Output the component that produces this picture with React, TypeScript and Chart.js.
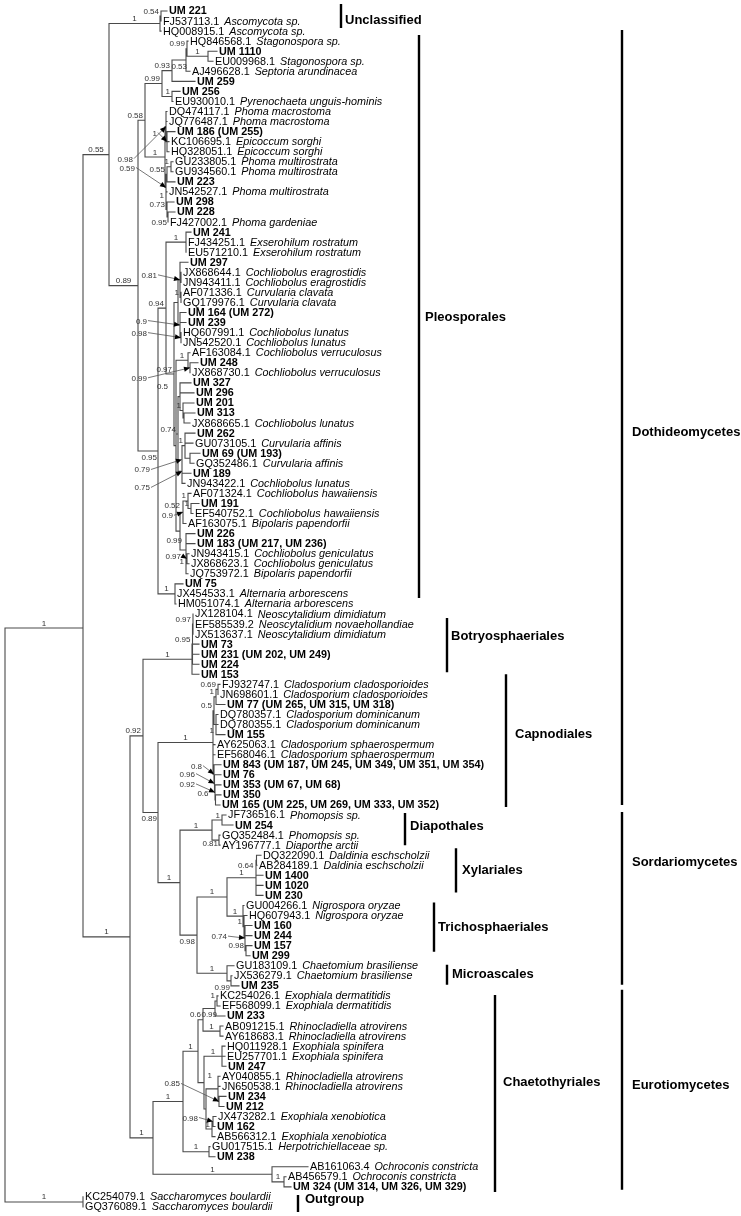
import React, { useEffect, useRef } from "react";
import { Chart, registerables } from "chart.js";

Chart.register(...registerables);

// ---------------- leaves, top to bottom ----------------
const leafIds: string[] = [
  "UM 221", "FJ537113.1", "HQ008915.1", "HQ846568.1", "UM 1110", "EU009968.1", "AJ496628.1", "UM 259", "UM 256", "EU930010.1",
  "DQ474117.1", "JQ776487.1", "UM 186 (UM 255)", "KC106695.1", "HQ328051.1", "GU233805.1", "GU934560.1", "UM 223", "JN542527.1", "UM 298",
  "UM 228", "FJ427002.1", "UM 241", "FJ434251.1", "EU571210.1", "UM 297", "JX868644.1", "JN943411.1", "AF071336.1", "GQ179976.1",
  "UM 164 (UM 272)", "UM 239", "HQ607991.1", "JN542520.1", "AF163084.1", "UM 248", "JX868730.1", "UM 327", "UM 296", "UM 201",
  "UM 313", "JX868665.1", "UM 262", "GU073105.1", "UM 69 (UM 193)", "GQ352486.1", "UM 189", "JN943422.1", "AF071324.1", "UM 191",
  "EF540752.1", "AF163075.1", "UM 226", "UM 183 (UM 217, UM 236)", "JN943415.1", "JX868623.1", "JQ753972.1", "UM 75", "JX454533.1", "HM051074.1",
  "JX128104.1", "EF585539.2", "JX513637.1", "UM 73", "UM 231 (UM 202, UM 249)", "UM 224", "UM 153", "FJ932747.1", "JN698601.1", "UM 77 (UM 265, UM 315, UM 318)",
  "DQ780357.1", "DQ780355.1", "UM 155", "AY625063.1", "EF568046.1", "UM 843 (UM 187, UM 245, UM 349, UM 351, UM 354)", "UM 76", "UM 353 (UM 67, UM 68)", "UM 350", "UM 165 (UM 225, UM 269, UM 333, UM 352)",
  "JF736516.1", "UM 254", "GQ352484.1", "AY196777.1", "DQ322090.1", "AB284189.1", "UM 1400", "UM 1020", "UM 230", "GU004266.1",
  "HQ607943.1", "UM 160", "UM 244", "UM 157", "UM 299", "GU183109.1", "JX536279.1", "UM 235", "KC254026.1", "EF568099.1",
  "UM 233", "AB091215.1", "AY618683.1", "HQ011928.1", "EU257701.1", "UM 247", "AY040855.1", "JN650538.1", "UM 234", "UM 212",
  "JX473282.1", "UM 162", "AB566312.1", "GU017515.1", "UM 238", "AB161063.4", "AB456579.1", "UM 324 (UM 314, UM 326, UM 329)", "KC254079.1", "GQ376089.1",
];

const leafSpecies: string[] = [
  "", "Ascomycota sp.", "Ascomycota sp.", "Stagonospora sp.", "", "Stagonospora sp.", "Septoria arundinacea", "", "", "Pyrenochaeta unguis-hominis",
  "Phoma macrostoma", "Phoma macrostoma", "", "Epicoccum sorghi", "Epicoccum sorghi", "Phoma multirostrata", "Phoma multirostrata", "", "Phoma multirostrata", "",
  "", "Phoma gardeniae", "", "Exserohilum rostratum", "Exserohilum rostratum", "", "Cochliobolus eragrostidis", "Cochliobolus eragrostidis", "Curvularia clavata", "Curvularia clavata",
  "", "", "Cochliobolus lunatus", "Cochliobolus lunatus", "Cochliobolus verruculosus", "", "Cochliobolus verruculosus", "", "", "",
  "", "Cochliobolus lunatus", "", "Curvularia affinis", "", "Curvularia affinis", "", "Cochliobolus lunatus", "Cochliobolus hawaiiensis", "",
  "Cochliobolus hawaiiensis", "Bipolaris papendorfii", "", "", "Cochliobolus geniculatus", "Cochliobolus geniculatus", "Bipolaris papendorfii", "", "Alternaria arborescens", "Alternaria arborescens",
  "Neoscytalidium dimidiatum", "Neoscytalidium novaehollandiae", "Neoscytalidium dimidiatum", "", "", "", "", "Cladosporium cladosporioides", "Cladosporium cladosporioides", "",
  "Cladosporium dominicanum", "Cladosporium dominicanum", "", "Cladosporium sphaerospermum", "Cladosporium sphaerospermum", "", "", "", "", "",
  "Phomopsis sp.", "", "Phomopsis sp.", "Diaporthe arctii", "Daldinia eschscholzii", "Daldinia eschscholzii", "", "", "", "Nigrospora oryzae",
  "Nigrospora oryzae", "", "", "", "", "Chaetomium brasiliense", "Chaetomium brasiliense", "", "Exophiala dermatitidis", "Exophiala dermatitidis",
  "", "Rhinocladiella atrovirens", "Rhinocladiella atrovirens", "Exophiala spinifera", "Exophiala spinifera", "", "Rhinocladiella atrovirens", "Rhinocladiella atrovirens", "", "",
  "Exophiala xenobiotica", "", "Exophiala xenobiotica", "Herpotrichiellaceae sp.", "", "Ochroconis constricta", "Ochroconis constricta", "", "Saccharomyces boulardii", "Saccharomyces boulardii",
];

// tip position of every leaf along the branch-length axis
const leafDepth: number[] = [
  167, 161, 161, 188, 217, 213, 190, 195, 180, 173,
  167, 167, 175, 169, 169, 173, 173, 175, 167, 174,
  175, 168, 191, 186, 186, 188, 181, 181, 181, 181,
  186, 186, 181, 181, 190, 198, 190, 191, 194, 194,
  195, 190, 195, 193, 200, 194, 191, 185, 191, 199,
  193, 186, 195, 195, 189, 189, 188, 183, 175, 176,
  193, 193, 193, 199, 199, 199, 199, 220, 218, 225,
  218, 218, 225, 215, 215, 221, 221, 221, 221, 220,
  226, 233, 220, 220, 261, 257, 263, 263, 263, 244,
  247, 252, 252, 252, 250, 234, 232, 239, 218, 220,
  225, 223, 223, 225, 225, 226, 220, 220, 226, 224,
  216, 215, 215, 210, 215, 308, 286, 291, 83, 83,
];

// ---------------- tree: [node depth, support, ...children] ----------------
type Tree = number | any[];

const unclassifiedClade: Tree = [160, "1", [161, "0.54", 0, 1], 2];

const phomaClade: Tree = [145, "0.58",
  [162, "0.99",
    [172, "0.93", [186, "0.53", [187, "0.99", 3, [208, "1", 4, 5]], 6], 7],
    [172, "1", 8, 9]],
  [165, "1",
    [166, "0.98", 10, 11, [167, "1", 12, 13, 14]],
    [166, "0.59", [167, "0.55", [171, "1", 15, 16], 17],
      [166, "1", 18, [167, "0.73", 19, [168, "0.95", 20, 21]]]]]];

const cochliobolusClade: Tree = [174, "0.97",
  [178, "", [180, "0.81", 25, [181, "", 26, 27], [181, "1", 28, 29]],
    [180, "0.9", 30, 31, [181, "0.98", 32, 33]]],
  [176, "",
    [188, "1", 34, [190, "0.99", 35, 36]],
    [178, "0.74", [180, "0.5", 37, 38, [183, "1", 39, [184, "", 40, 41]]],
      [182, "0.75", [182, "0.79", [185, "1", 42, 43, [190, "", 44, 45]], 46], 47]],
    [180, "0.52", [183, "0.9", [188, "1", 48, [191, "1", 49, 50]], 51],
      [186, "0.99", 52, 53, [186, "1", [187, "0.97", 54, 55], 56]]]]];

const pleosporalesClade: Tree = [158, "0.95",
  [166, "0.94", [186, "1", 22, 23, 24], cochliobolusClade],
  [175, "1", 57, 58, 59]];

const botryosphaerialesClade: Tree = [192, "1",
  [192.5, "0.95", [193, "0.97", 60, 61, 62], 63, 64, 65], 66];

const capnodialesClade: Tree = [213, "1",
  [214, "0.5", [216, "1", [218, "0.69", 67, 68], 69], [216, "1", 70, 71, 72]],
  73, 74,
  [214, "0.8", 75, [214.5, "0.96", 76, [215, "0.92", 77, [215.5, "0.6", 78, 79]]]]];

const sordariomycetesClade: Tree = [180, "1",
  [212, "1", [222, "1", 80, 81], [219, "0.81", 82, 83]],
  [197, "0.98",
    [227, "1",
      [256, "1", [256.5, "0.64", 84, 85], 86, 87, 88],
      [243, "1", 89, [244, "1", 90, [245, "0.74", 91, 92, [246, "0.98", 93, 94]]]]],
    [227, "1", 95, [231, "0.99", 96, 97]]]];

const eurotiomycetesClade: Tree = [153, "1",
  [183, "1",
    [198, "1",
      [203, "0.6", [215, "0.99", [217, "1", 98, 99], 100], [220, "1", 101, 102]],
      [204, "", [222, "1", 103, 104, 105],
        [206, "", [218, "1", 106, 107, [219, "0.85", 108, 109]],
          [212, "1", [213, "0.98", 110, 111], 112]]]],
    [209, "1", 113, 114]],
  [272, "1", 115, [284, "1", 116, 117]]];

const tree: Tree = [5, "",
  [83, "1",
    [109, "0.55", unclassifiedClade, [138, "0.89", phomaClade, pleosporalesClade]],
    [130, "1",
      [143, "0.92", botryosphaerialesClade, [158, "0.89", capnodialesClade, sordariomycetesClade]],
      eurotiomycetesClade]],
  [83, "1", 118, 119]];

// ---------------- clades (bars on the right) ----------------
const cladeNames: string[] = ["Unclassified", "Pleosporales", "Botryosphaeriales", "Capnodiales", "Diapothales", "Xylariales", "Trichosphaeriales", "Microascales", "Chaetothyriales", "Outgroup", "Dothideomycetes", "Sordariomycetes", "Eurotiomycetes"];
const cladeBarTop: number[] = [-0.7, 2.4, 60.4, 66.0, 79.8, 83.3, 88.7, 94.9, 97.9, 117.8, 1.9, 79.7, 97.4];
const cladeBarBottom: number[] = [1.7, 58.4, 65.8, 79.2, 83.0, 87.7, 93.6, 96.9, 117.5, 119.5, 79.0, 96.9, 117.3];
const cladeLabelRow: number[] = [0.9, 30.5, 62.2, 72, 81.1, 85.5, 91.2, 95.9, 106.6, 118.3, 41.9, 84.7, 106.9];

// ---------------- layout (pixels) ----------------
const CLADE_BAR_X = [341, 419, 447, 506, 405, 456, 434, 447, 495, 298, 622, 622, 622];
const CLADE_TEXT_GAP = [4, 6, 4, 9, 5, 6, 4, 5, 8, 7, 10, 10, 10];
// node drawn off its children's midpoint (key "firstLeaf-lastLeaf" -> row)
const NODE_ROW_OVERRIDE: Record<string, number> = { "0-117": 61.4 };
// support labels placed beside their node: key "firstLeaf-lastLeaf" -> [dx, dy, arrow]
const SUPPORT_OFFSETS: Record<string, [number, number, number]> = {
  "12-14": [-10, -6, 1], "10-14": [-33, 35, 1], "15-21": [-31, -17, 1], "20-21": [-1, 8, 0],
  "3-6": [1, 9, 0], "25-29": [-23, -2, 1], "30-33": [-33, -1.5, 1], "32-33": [-34, -2, 1],
  "35-36": [-43, 13, 1], "37-41": [-12, -8, 0], "42-46": [-32, 13, 1], "42-47": [-32, 19, 1],
  "48-56": [0, -23, 0], "48-51": [-10, 6, 1], "52-56": [-4, -7, 0], "54-55": [-6, 0, 1],
  "22-59": [-1, 9, 0], "70-72": [-2, 8, 0], "75-79": [-12, -5.5, 1], "76-79": [-19.5, -7, 1],
  "77-79": [-20, -5.5, 1], "78-79": [-7, -4, 0], "67-97": [-1, 8, 0], "82-83": [-1, 6, 0],
  "84-85": [-3, 8, 0], "91-94": [-18, 1, 1], "84-97": [-2, 9, 0], "96-97": [-1, 9, 0],
  "98-100": [2, 8.5, 0], "106-109": [-6, -11, 0], "108-109": [-39, -15, 1], "110-111": [-15, -1, 1],
};

const ROW_TOP = 11;
const ROW_STEP = 10.05;
const W = 741;
const H = 1216;
const FONT = '"Liberation Sans", Arial, sans-serif';

interface Placed { x: number; y: number; first: number; last: number; support: string; parentX: number; }

export default function App() {
  const ref = useRef<HTMLCanvasElement>(null);

  useEffect(() => {
    const canvas = ref.current;
    if (!canvas) return;

    const placed: Placed[] = [];
    const branchPts: { x: number; y: number | null }[] = [];
    const seg = (x1: number, y1: number, x2: number, y2: number) => {
      branchPts.push({ x: x1, y: y1 }, { x: x2, y: y2 }, { x: x2, y: null });
    };
    const walk = (t: Tree, parentX: number): { x: number; y: number; first: number; last: number } => {
      if (typeof t === "number") return { x: leafDepth[t], y: t, first: t, last: t };
      const d = t[0] as number;
      const s = t[1] as string;
      const kids = t.slice(2) as Tree[];
      const res = kids.map((k) => walk(k, d));
      const y0 = res[0].y;
      const y1 = res[res.length - 1].y;
      seg(d, y0, d, y1);
      res.forEach((r) => { if (r.x > d) seg(d, r.y, r.x, r.y); });
      const first = res[0].first;
      const last = res[res.length - 1].last;
      const ov = NODE_ROW_OVERRIDE[`${first}-${last}`];
      const node = { x: d, y: ov !== undefined ? ov : (y0 + y1) / 2, first, last };
      placed.push({ ...node, support: s, parentX });
      return node;
    };
    walk(tree, 5);

    const barPts: { x: number; y: number | null }[] = [];
    cladeNames.forEach((_, i) => {
      barPts.push({ x: CLADE_BAR_X[i], y: cladeBarTop[i] }, { x: CLADE_BAR_X[i], y: cladeBarBottom[i] }, { x: CLADE_BAR_X[i], y: null });
    });

    const textPlugin = {
      id: "treeText",
      afterDatasetsDraw(chart: any) {
        const ctx: CanvasRenderingContext2D = chart.ctx;
        const xs = chart.scales.x;
        const ys = chart.scales.y;
        ctx.save();
        // leaf labels
        ctx.textAlign = "left";
        ctx.textBaseline = "middle";
        ctx.fillStyle = "#000";
        leafIds.forEach((id, i) => {
          const x = xs.getPixelForValue(leafDepth[i]) + 2;
          const y = ys.getPixelForValue(i) + 0.5;
          if (!leafSpecies[i]) {
            ctx.font = `bold 10.8px ${FONT}`;
            ctx.fillText(id, x, y);
          } else {
            ctx.font = `10.8px ${FONT}`;
            ctx.fillText(id, x, y);
            const w = ctx.measureText(id + " ").width;
            ctx.font = `italic 10.8px ${FONT}`;
            ctx.fillText(leafSpecies[i], x + w + 2, y);
          }
        });
        // support values
        ctx.font = `8px ${FONT}`;
        ctx.textBaseline = "alphabetic";
        placed.forEach((n) => {
          if (!n.support) return;
          const px = xs.getPixelForValue(n.x);
          const ppx = xs.getPixelForValue(n.parentX);
          const py = ys.getPixelForValue(n.y);
          const w = ctx.measureText(n.support).width;
          const off = SUPPORT_OFFSETS[`${n.first}-${n.last}`];
          ctx.fillStyle = "#333";
          if (off) {
            const tx = px + off[0];
            const ty = py + off[1];
            ctx.textAlign = "right";
            ctx.fillText(n.support, tx, ty);
            if (off[2]) {
              const sx = tx + 1;
              const sy = ty - 3;
              const ang = Math.atan2(py - sy, px - sx);
              ctx.strokeStyle = "#555";
              ctx.lineWidth = 0.8;
              ctx.beginPath();
              ctx.moveTo(sx, sy);
              ctx.lineTo(px - 4 * Math.cos(ang), py - 4 * Math.sin(ang));
              ctx.stroke();
              ctx.fillStyle = "#000";
              ctx.beginPath();
              ctx.moveTo(px, py);
              ctx.lineTo(px - 6 * Math.cos(ang) + 2.6 * Math.sin(ang), py - 6 * Math.sin(ang) - 2.6 * Math.cos(ang));
              ctx.lineTo(px - 6 * Math.cos(ang) - 2.6 * Math.sin(ang), py - 6 * Math.sin(ang) + 2.6 * Math.cos(ang));
              ctx.closePath();
              ctx.fill();
            }
          } else if (px - ppx >= w + 6) {
            ctx.textAlign = "center";
            ctx.fillText(n.support, (px + ppx) / 2, py - 2.5);
          } else {
            ctx.textAlign = "right";
            ctx.fillText(n.support, px - 2, py - 2.5);
          }
        });
        // clade names
        ctx.fillStyle = "#000";
        ctx.textAlign = "left";
        ctx.textBaseline = "middle";
        ctx.font = `bold 13px ${FONT}`;
        cladeNames.forEach((name, i) => {
          const x = xs.getPixelForValue(CLADE_BAR_X[i]) + CLADE_TEXT_GAP[i];
          const y = ys.getPixelForValue(cladeLabelRow[i]);
          ctx.fillText(name, x, y);
        });
        ctx.restore();
      },
    };

    const chart = new Chart(canvas, {
      type: "scatter",
      data: {
        datasets: [
          {
            data: branchPts as any,
            showLine: true,
            spanGaps: false,
            borderColor: "#4a4a4a",
            borderWidth: 1.1,
            borderCapStyle: "square",
            pointRadius: 0,
          },
          {
            data: barPts as any,
            showLine: true,
            spanGaps: false,
            borderColor: "#000",
            borderWidth: 2.4,
            pointRadius: 0,
          },
        ],
      },
      options: {
        animation: false,
        responsive: false,
        devicePixelRatio: 1,
        events: [],
        layout: { padding: 0 },
        plugins: { legend: { display: false }, tooltip: { enabled: false } },
        scales: {
          x: { type: "linear", min: 0, max: W, display: false },
          y: { type: "linear", min: -ROW_TOP / ROW_STEP, max: (H - ROW_TOP) / ROW_STEP, reverse: true, display: false },
        },
      },
      plugins: [textPlugin],
    });
    return () => chart.destroy();
  }, []);

  return (
    <div style={{ position: "absolute", left: 0, top: 0, width: W, height: H, background: "#fff" }}>
      <canvas ref={ref} width={W} height={H} style={{ display: "block", width: W, height: H }} />
    </div>
  );
}
